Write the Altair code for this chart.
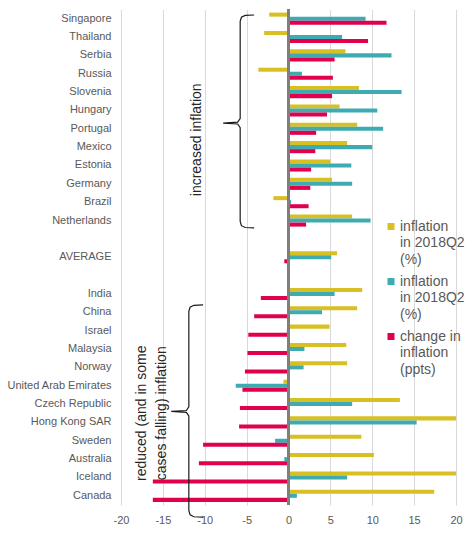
import altair as alt
import pandas as pd

# ---- data ----
countries = ["Singapore", "Thailand", "Serbia", "Russia", "Slovenia", "Hungary",
             "Portugal", "Mexico", "Estonia", "Germany", "Brazil", "Netherlands",
             "AVERAGE",
             "India", "China", "Israel", "Malaysia", "Norway", "United Arab Emirates",
             "Czech Republic", "Hong Kong SAR", "Sweden", "Australia", "Iceland", "Canada"]
infl_yellow = [-2.3, -2.9, 6.8, -3.6, 8.4, 6.1, 8.2, 7.0, 5.0, 5.2, -1.8, 7.6,
               5.8,
               8.8, 8.2, 4.9, 6.9, 7.0, -0.6, 13.3, 20.0, 8.7, 10.2, 20.0, 17.4]
infl_teal = [9.2, 6.4, 12.3, 1.6, 13.5, 10.6, 11.3, 10.0, 7.5, 7.6, 0.3, 9.8,
             5.1,
             5.5, 4.0, -0.2, 1.9, 1.8, -6.3, 7.6, 15.3, -1.6, -0.5, 7.0, 1.0]
change_red = [11.7, 9.5, 5.5, 5.3, 5.2, 4.6, 3.3, 3.2, 2.7, 2.6, 2.4, 2.1,
              -0.5,
              -3.3, -4.1, -4.8, -4.9, -5.2, -5.5, -5.8, -5.9, -10.2, -10.7, -16.2, -16.2]

series_keys = ["a", "b", "c"]
series_colors = ["#d8bf22", "#3eabb3", "#e0004e"]
x_ticks = [-20, -15, -10, -5, 0, 5, 10, 15, 20]

# category order with blank spacer rows
y_domain = countries[:12] + ["gap1", "AVERAGE", "gap2"] + countries[13:]

rows = []
for k, vals in zip(series_keys, [infl_yellow, infl_teal, change_red]):
    for c, v in zip(countries, vals):
        rows.append({"country": c, "series": k, "value": v})
df = pd.DataFrame(rows)

# brace annotation outlines (x in data units, y in row units)
def brace(name, v, e, t, y0, ym, y1):
    pts = [(e, y0), (v + 0.6, y0 + 0.02), (v + 0.15, y0 + 0.12), (v, y0 + 0.35),
           (v, ym - 0.25), (v - 0.3, ym - 0.05), (t, ym), (v - 0.3, ym + 0.05),
           (v, ym + 0.25), (v, y1 - 0.35), (v + 0.15, y1 - 0.12), (v + 0.6, y1 - 0.02),
           (e, y1)]
    return [{"b": name, "i": i, "x": p[0], "y": p[1]} for i, p in enumerate(pts)]

brace_df = pd.DataFrame(brace("top", -5.77, -4.1, -7.8, 0.3, 6.19, 11.9) +
                        brace("bottom", -11.9, -10.2, -14.0, 16.1, 21.9, 27.66))

ann_text = ["increased inflation", "reduced (and in some", "cases falling) inflation"]
ann_x = [-10.9, -17.5, -15.1]
ann_y = [7.1, 22.0, 22.0]
ann_df = pd.DataFrame({"t": ann_text, "x": ann_x, "y": ann_y})

FONT = "Liberation Sans"
xscale = alt.Scale(domain=[-20, 20], nice=False)
rowscale = alt.Scale(domain=[0, 27], reverse=True, nice=False, zero=False)

bars = alt.Chart(df).mark_bar().encode(
    y=alt.Y("country:N",
            scale=alt.Scale(domain=y_domain, paddingInner=0.34, paddingOuter=0.17),
            axis=alt.Axis(title=None, ticks=False, domain=False, labelPadding=10,
                          labelFontSize=11, labelFont=FONT, labelColor="#595959",
                          labelExpr="indexof(datum.value, 'gap') == 0 ? '' : datum.value")),
    yOffset=alt.YOffset("series:N", scale=alt.Scale(domain=series_keys, paddingInner=0, paddingOuter=0)),
    x=alt.X("value:Q", scale=xscale,
            axis=alt.Axis(title=None, values=x_ticks, ticks=False, tickSize=0, domain=False,
                          labelPadding=9, labelFontSize=11, labelFont=FONT,
                          labelColor="#595959", gridColor="#d9d9d9", grid=True,
                          labelFlush=False, labelExpr="datum.value + ''")),
    color=alt.Color("series:N",
                    scale=alt.Scale(domain=series_keys, range=series_colors),
                    legend=alt.Legend(title=None, orient="none", legendX=263, legendY=203,
                                      symbolType="M-1,1H1V3H-1Z", symbolSize=49,
                                      symbolStrokeWidth=0,
                                      labelFontSize=14, labelFont=FONT, labelColor="#595959",
                                      labelOffset=2, rowPadding=0, padding=0,
                                      labelBaseline="top",
                                      labelExpr="datum.value == 'c' ? ['change in', 'inflation', '(ppts)'] : ['inflation', 'in 2018Q2', '(%)']")),
)

zero = alt.Chart(df).mark_rule(color="#7f7f7f", strokeWidth=2).encode(x=alt.datum(0, scale=xscale))

braces = alt.Chart(brace_df).mark_line(color="#1a1a1a", strokeWidth=1.2, clip=False).encode(
    x=alt.X("x:Q", scale=xscale),
    y=alt.Y("y:Q", scale=rowscale, axis=None),
    detail="b:N",
    order="i:Q",
)

texts = alt.Chart(ann_df).mark_text(angle=270, baseline="middle", align="center",
                                    fontSize=14, font=FONT, color="#262626").encode(
    x=alt.X("x:Q", scale=xscale),
    y=alt.Y("y:Q", scale=rowscale, axis=None),
    text="t:N",
)

chart = alt.layer(bars, zero, braces, texts).resolve_scale(y="independent").properties(
    width=335, height=495.5,
    padding={"left": 121, "top": 9.5, "right": 14, "bottom": 32},
    autosize=alt.AutoSizeParams(type="none"),
).configure(style={"guide-label": {"lineHeight": 16.8}}).configure_view(strokeWidth=0)

chart.save("out.html", embed_options={"renderer": "svg", "actions": False})
